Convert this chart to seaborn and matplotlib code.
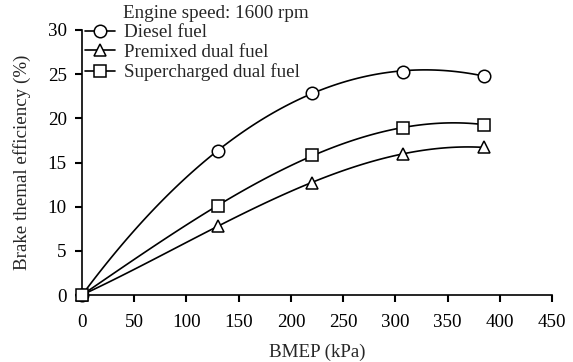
import matplotlib
matplotlib.use("Agg")
import matplotlib.pyplot as plt
from matplotlib.lines import Line2D
import seaborn as sns
import pandas as pd

bmep = [0, 130, 220, 307, 385]
diesel = [0, 16.3, 22.9, 25.3, 24.8]
premixed = [0, 7.8, 12.7, 16.0, 16.7]
supercharged = [0, 10.1, 15.8, 18.9, 19.3]
labels = ["Diesel fuel", "Premixed dual fuel", "Supercharged dual fuel"]
markers = ["o", "^", "s"]
xticks = [0, 50, 100, 150, 200, 250, 300, 350, 400, 450]
yticks = [0, 5, 10, 15, 20, 25, 30]

FS = 13.7
sns.set_theme(style="ticks")
plt.rcParams["font.family"] = ["Liberation Serif", "DejaVu Serif"]
plt.rcParams["font.size"] = FS

fig = plt.figure(figsize=(5.73, 3.62), dpi=100)
ax = fig.add_axes([82/573, 1-295/362, 470/573, 265/362])

series = [diesel, premixed, supercharged]
handles = []
for vals, lab, m in zip(series, labels, markers):
    df = pd.DataFrame({"x": bmep, "y": vals})
    sns.regplot(data=df, x="x", y="y", order=3, ci=None, scatter=False,
                truncate=True, ax=ax, line_kws=dict(color="black", lw=1.2))
    ax.plot(bmep, vals, linestyle="none", marker=m, markersize=9,
            markerfacecolor="white", markeredgecolor="black", markeredgewidth=1.1,
            clip_on=False, zorder=5)
    handles.append(Line2D([], [], color="black", lw=1.2, marker=m, markersize=9,
                          markerfacecolor="white", markeredgecolor="black",
                          markeredgewidth=1.1))

ax.set_xlim(0, 450)
ax.set_ylim(0, 30)
ax.set_xticks(xticks)
ax.set_yticks(yticks)
ax.set_xlabel("BMEP (kPa)", fontsize=FS, labelpad=9)
ax.set_ylabel("Brake themal efficiency (%)", fontsize=FS, labelpad=12)
for s in ["top", "right"]:
    ax.spines[s].set_visible(False)
for s in ["left", "bottom"]:
    ax.spines[s].set_color("black")
    ax.spines[s].set_linewidth(1.2)
ax.tick_params(direction="out", length=5, width=1.5, colors="black", labelsize=FS)
ax.tick_params(axis="x", pad=9)
ax.tick_params(axis="y", pad=6)

leg = fig.legend(handles, labels, loc="upper left", bbox_to_anchor=(85/573, 1-24/362),
                 frameon=False, borderpad=0, handlelength=1.6, handletextpad=0.45,
                 labelspacing=0.13, fontsize=FS, borderaxespad=0)
fig.text(123/573, 1-13/362, "Engine speed: 1600 rpm", fontsize=FS, va="center", ha="left")

fig.savefig("out.png", dpi=100)
